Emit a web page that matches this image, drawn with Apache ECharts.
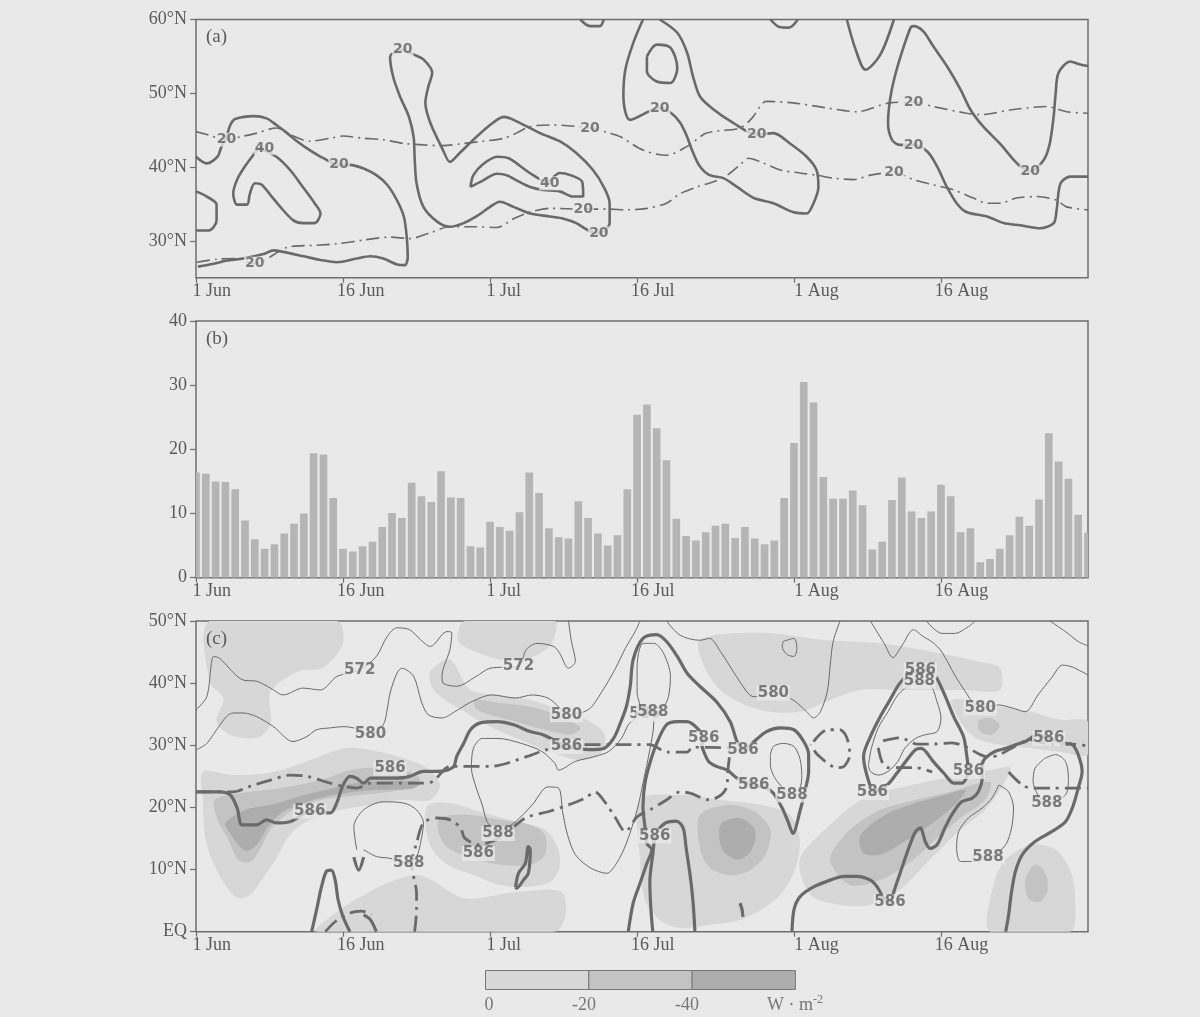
<!DOCTYPE html>
<html>
<head>
<meta charset="utf-8">
<script src="https://cdn.jsdelivr.net/npm/echarts@6/dist/echarts.min.js"></script>
<style>
  html, body { margin: 0; padding: 0; background: #e9e9e9; }
  #chart { width: 1200px; height: 1017px; }
</style>
</head>
<body>
<div id="chart"></div>
<script>
// x axis of every panel: days since 1 Jun (0 = 1 Jun, 91 = 31 Aug)
var tickDays = [0, 15, 30, 45, 61, 76];
var tickNames = ['1 Jun', '16 Jun', '1 Jul', '16 Jul', '1 Aug', '16 Aug'];
var labelDays = [1.6, 16.8, 31.4, 46.6, 63.3, 78.1];   // where the label texts sit
var latTicksA = [30, 40, 50, 60];

// (b) daily values, 1 Jun .. 31 Aug
var barValues = [16.4, 16.2, 15.0, 14.9, 13.8, 8.9, 6.0, 4.5, 5.2, 6.9, 8.4, 10.0, 19.4, 19.2, 12.4,
  4.5, 4.1, 4.9, 5.6, 7.9, 10.1, 9.3, 14.8, 12.7, 11.8, 16.6, 12.5, 12.4, 4.9, 4.7,
  8.7, 7.9, 7.3, 10.2, 16.4, 13.2, 7.7, 6.3, 6.1, 11.9, 9.3, 6.9, 5.0, 6.6, 13.8,
  25.4, 27.0, 23.3, 18.3, 9.2, 6.5, 5.8, 7.1, 8.1, 8.4, 6.2, 7.9, 6.1, 5.2, 5.8, 12.4,
  21.0, 30.5, 27.3, 15.7, 12.3, 12.3, 13.6, 11.3, 4.4, 5.6, 12.1, 15.6, 10.3, 9.3, 10.3,
  14.5, 12.7, 7.1, 7.7, 2.4, 2.9, 4.5, 6.6, 9.5, 8.1, 12.2, 22.5, 18.1, 15.4, 9.8, 7.0];

// (a) solid contours [day, lat]
var aSolid = [
  [[0,36.7],[1.1,36.0],[2.1,34.9],[2.1,32.8],[1.3,31.4],[0,31.4]],
  [[0,41.4],[1.1,40.5],[2.2,41.4],[2.6,42.8],[3.1,44.1],[3.5,45.7],[4.0,46.5],[5.9,46.9],[7.2,46.6],[8.2,45.7],[9.3,44.6],[10.3,43.5],[11.6,42.3],[13.0,41.2],[14.6,40.3],[15.7,40.3],[17.1,39.8],[18.4,38.9],[19.5,37.6],[20.5,35.5],[21.2,33.3],[21.5,30.5],[21.6,27.8],[21.3,26.7],[20.5,26.8],[19.1,27.6],[17.8,27.9],[16.4,27.6],[14.4,27.1],[12.7,27.4],[11.0,27.9],[8.9,28.5],[7.9,28.7],[6.9,28.2],[4.8,27.6],[3.1,27.3],[1.8,26.9],[0.2,26.5]],
  [[6.4,42.6],[8.2,41.4],[9.6,39.6],[10.9,37.3],[12.1,35.1],[12.7,33.7],[12.1,32.4],[10.9,32.4],[9.9,32.8],[8.6,34.6],[7.6,36.2],[6.7,37.6],[6.0,37.8],[5.5,36.4],[5.2,34.9],[4.2,34.9],[3.8,36.4],[4.2,38.3],[5.0,40.1],[6.0,41.9],[6.4,42.6]],
  [[21.1,55.9],[19.8,55.0],[20.1,52.3],[20.8,49.6],[21.7,46.9],[22.2,44.1],[22.3,41.4],[22.5,37.8],[23.2,34.6],[24.6,32.6],[25.9,31.9],[27.3,32.4],[28.6,33.3],[30.0,34.6],[31.0,35.3],[32.4,34.6],[34.1,33.7],[36.1,33.3],[37.5,33.0],[38.8,32.4],[39.9,31.5],[41.1,31.0],[42.2,32.4],[42.2,35.1],[41.6,37.3],[40.5,39.6],[38.8,41.9],[37.1,43.5],[35.1,44.6],[32.4,46.4],[31.4,46.8],[30.0,45.7],[28.3,43.7],[26.9,41.9],[25.9,40.7],[25.2,42.3],[23.9,46.0],[23.4,48.7],[23.7,50.9],[24.1,52.8],[23.2,54.6],[22.3,55.2],[21.1,55.9]],
  [[28.0,37.3],[28.3,38.9],[29.3,40.4],[30.7,41.4],[31.9,41.2],[33.1,40.1],[34.4,38.9],[35.8,38.0],[37.1,39.2],[38.2,38.9],[39.4,38.0],[39.5,36.0],[38.5,36.0],[37.1,36.7],[35.4,36.9],[34.1,37.3],[32.7,38.2],[31.7,38.9],[30.7,39.1],[29.3,38.2],[28.0,37.3]],
  [[45.6,60],[44.6,56.8],[43.8,53.2],[43.6,49.6],[44.3,46.4],[47.3,48.0],[48.5,47.3],[49.4,46.0],[50.1,44.1],[50.6,42.3],[51.4,40.1],[52.4,38.9],[53.8,38.5],[55.2,37.3],[56.9,35.8],[58.9,35.1],[60.9,33.9],[62.3,33.7],[63.0,35.1],[63.5,37.3],[63.3,39.6],[62.3,41.4],[60.6,43.2],[58.9,44.6],[57.2,44.4],[54.8,46.0],[52.8,47.8],[51.4,49.6],[50.7,52.3],[50.1,55.5],[49.1,58.2],[47.3,60]],
  [[46.0,55.0],[47.0,56.6],[48.4,56.2],[49.1,53.4],[48.4,51.4],[47.0,51.6],[46.0,53.0],[46.0,55.0]],
  [[66.4,60],[67.3,55.9],[68.3,53.2],[69.8,55.2],[71.2,60]],
  [[58.6,60],[59.5,59.0],[60.5,58.9],[61.4,60]],
  [[39.2,60],[40.2,59.1],[41.2,59.1],[41.6,60]],
  [[91,53.7],[90.2,53.9],[89.2,54.3],[88.0,52.8],[87.7,50.0],[87.5,46.9],[87.1,43.2],[86.5,41.0],[85.1,39.4],[84.1,40.1],[83.4,41.0],[82.0,43.2],[80.3,45.5],[79.0,47.8],[78.0,50.5],[76.6,53.7],[75.2,56.4],[74.2,58.4],[73.2,59.1],[72.9,58.9],[72.0,55.5],[71.2,51.8],[70.8,49.1],[70.6,46.0],[71.0,43.7],[71.8,43.0],[73.2,43.0],[74.6,42.1],[75.6,40.1],[76.6,37.3],[77.6,35.1],[78.6,33.9],[80.7,33.3],[82.4,32.4],[84.1,32.1],[86.1,31.7],[87.5,32.4],[87.8,34.2],[88.2,37.8],[89.2,38.7],[91,38.7]]
];
// (a) dash-dot contours
var aDash = [
  [[0,44.8],[1.1,44.4],[3.1,43.7],[4.5,44.1],[6.2,44.6],[8.2,45.3],[9.6,44.4],[11.6,43.5],[13.7,43.9],[15.0,44.2],[17.1,43.9],[19.1,43.7],[21.2,43.2],[23.2,43.0],[25.2,42.9],[27.3,43.2],[29.3,43.5],[31.4,43.9],[32.7,44.6],[34.1,45.5],[36.1,45.7],[40.2,45.3],[42.2,44.6],[43.3,44.1],[45.6,42.3],[48.0,41.6],[50.1,42.8],[52.1,44.6],[55.5,45.3],[56.7,46.6],[58.2,48.9],[60.9,48.7],[64.4,48.0],[67.4,47.5],[70.8,48.7],[73.2,48.8],[75.2,48.2],[78.6,47.3],[80.0,47.1],[83.4,47.8],[86.8,48.2],[88.8,47.5],[91,47.3]],
  [[0.1,27.1],[2.1,27.5],[4.2,27.6],[6.0,26.9],[9.3,29.1],[12.3,29.4],[14.4,29.6],[17.1,30.1],[19.8,30.5],[21.8,30.3],[23.9,31.1],[25.9,31.9],[28.6,31.9],[30.7,31.8],[32.4,33.0],[34.1,33.9],[36.1,34.4],[39.5,34.3],[42.2,34.3],[43.9,34.2],[46.0,34.4],[48.0,35.1],[49.4,36.4],[51.1,37.3],[52.8,38.0],[54.2,38.9],[55.5,40.3],[56.4,41.2],[57.6,40.7],[59.6,39.6],[61.6,39.2],[63.3,38.9],[65.0,38.5],[67.1,38.3],[68.8,38.9],[71.2,39.3],[73.2,38.3],[75.2,37.6],[77.3,36.9],[79.3,35.8],[80.7,35.1],[82.0,35.1],[83.7,35.8],[85.8,36.0],[87.8,35.5],[88.8,34.6],[91,34.2]]
];
var aLabels = [
  [14.6,40.3,'20'],[7.0,42.6,'40'],[21.1,55.9,'20'],[41.1,31.0,'20'],[36.1,37.8,'40'],
  [47.3,48.0,'20'],[57.2,44.4,'20'],[73.2,43.0,'20'],[85.1,39.4,'20'],
  [3.1,43.7,'20'],[40.2,45.3,'20'],[73.2,48.8,'20'],
  [6.0,26.9,'20'],[39.5,34.3,'20'],[71.2,39.3,'20']
];

// (c) thin contours (572, 580, 588)
var cThin = [
  [[0,35.7],[1.1,37.8],[1.8,44.3],[2.4,44.0],[4.8,40.5],[6.2,40.3],[7.6,39.2],[8.9,38.1],[10.9,39.2],[12.7,38.9],[14.4,41.1],[16.7,42.1],[18.4,44.3],[19.5,47.5],[20.5,48.9],[21.8,48.6],[22.9,47.0],[23.9,45.9],[25.6,48.3],[26.1,48.1],[25.9,45.4],[25.1,41.1],[25.2,40.0],[26.6,39.5],[28.6,41.1],[30.0,42.4],[32.9,42.7],[33.7,45.4],[34.8,46.4],[36.5,45.9],[37.1,44.8],[38.0,42.4],[38.7,43.5],[38.3,46.7],[38.0,50]],
  [[0.1,29.3],[1.1,30.3],[2.1,32.5],[3.1,34.6],[3.8,35.2],[4.8,35.2],[6.2,34.6],[7.9,33.0],[9.9,30.6],[11.3,31.4],[12.3,32.5],[13.7,32.8],[15.0,33.0],[16.1,32.8],[17.8,31.8],[19.1,33.3],[19.5,35.7],[19.8,38.4],[20.5,41.6],[21.0,42.4],[22.2,41.1],[23.0,37.0],[23.7,34.9],[25.1,34.4],[26.4,35.4],[28.1,37.0],[30.2,38.1],[32.6,37.6],[34.3,38.1],[35.9,37.6],[37.0,36.2],[37.8,34.9],[40.0,35.7],[41.4,38.6],[42.8,42.4],[43.8,45.6],[44.8,48.3],[45.3,50]],
  [[48.0,50],[49.4,47.7],[51.4,46.9],[52.4,47.2],[53.5,45.1],[54.8,41.9],[56.2,38.6],[56.9,37.8],[58.9,38.4],[60.9,37.3],[62.3,35.4],[63.0,34.4],[63.7,35.4],[64.4,38.6],[64.7,42.9],[65.0,46.7],[65.7,50]],
  [[59.9,46.7],[61.0,47.2],[61.3,45.6],[61.0,44.3],[60.3,44.6],[59.8,45.9],[59.9,46.7]],
  [[68.8,50],[70.2,46.4],[71.1,44.1],[72.0,46.0],[73.2,48.6],[74.1,47.6],[75.2,46.5],[76.1,45.0],[77.4,41.3],[78.5,38.6],[79.2,37.0],[80.0,36.0],[81.8,36.5],[83.3,36.0],[84.6,35.4],[85.9,38.1],[87.3,40.9],[88.4,42.9],[89.4,42.6],[91,41.3]],
  [[74.5,50],[76.1,48.0],[77.4,48.0],[78.8,49.1],[79.5,50]],
  [[87.1,50],[88.7,48.3],[90.0,46.7],[91,46.0]],
  [[30.8,15.8],[29.7,17.7],[29.2,20.4],[28.6,23.1],[28.1,26.3],[28.3,29.5],[29.2,31.1],[30.8,31.1],[33.2,30.3],[35.3,29.0],[36.6,27.1],[37.0,26.0],[38.7,27.4],[40.7,28.2],[42.1,29.0],[43.4,31.1],[44.1,33.3],[44.8,34.4],[45.3,36.2],[45.0,38.4],[45.0,42.7],[45.6,46.4],[46.7,46.4],[47.7,44.8],[48.4,41.1],[48.2,37.8],[47.7,36.2],[46.7,34.9],[46.7,33.6],[46.3,29.3],[45.6,23.9],[45.0,19.6],[43.9,14.2],[42.9,11.0],[41.9,9.4],[40.2,10.3],[38.7,12.4],[37.9,15.6],[37.4,19.3],[37.0,23.1],[35.9,23.3],[34.3,20.4],[32.6,17.7],[30.8,15.8]],
  [[16.4,13.2],[16.1,16.9],[17.1,19.6],[19.1,20.9],[21.2,20.7],[22.5,19.6],[23.2,17.5],[22.9,14.2],[22.5,12.1],[21.7,11.0],[19.8,11.8],[18.4,12.1],[17.1,13.2]],
  [[58.6,28.4],[58.9,29.8],[59.9,30.3],[61.0,29.8],[61.6,27.9],[61.8,25.2],[61.6,23.1],[60.8,22.0],[59.6,23.6],[58.9,25.2],[58.6,26.8],[58.6,28.4]],
  [[68.6,26.8],[68.9,29.5],[69.6,32.8],[70.6,35.4],[71.6,38.1],[72.6,39.5],[73.5,40.3],[74.9,39.7],[75.6,37.0],[76.0,34.4],[75.6,32.2],[74.4,31.7],[73.4,31.1],[72.3,29.5],[71.6,27.4],[70.6,25.8],[69.6,25.2],[68.8,25.8],[68.6,26.8]],
  [[86.6,27.9],[87.7,28.5],[88.7,27.4],[89.0,24.7],[88.7,22.0],[86.8,20.7],[85.9,22.0],[85.4,24.2],[85.6,26.3],[86.6,27.9]],
  [[81.9,23.6],[82.9,22.5],[83.4,19.9],[83.2,16.7],[82.6,14.0],[81.2,12.1],[79.2,11.3],[78.0,11.3],[77.6,13.4],[77.8,16.1],[78.8,18.3],[80.2,19.9],[81.2,21.5],[81.9,23.6]]
];
// (c) thick 586 contours
var cThick = [
  [[0.1,22.5],[2.4,22.5],[3.5,22.0],[4.2,19.9],[4.7,17.2],[6.2,17.2],[7.2,18.0],[8.2,17.5],[9.6,17.7],[10.3,18.3],[11.6,19.4],[13.7,19.1],[14.4,20.9],[15.0,23.6],[15.7,25.0],[16.4,24.7],[17.1,23.9],[17.8,24.7],[18.8,24.7],[20.5,24.7],[21.8,25.0],[23.2,25.8],[24.6,25.8],[25.6,26.0],[26.3,26.6],[26.6,28.2],[27.3,30.3],[28.0,32.5],[29.0,33.6],[30.7,33.8],[32.4,33.3],[34.1,32.2],[35.4,31.7],[36.8,30.6],[37.8,29.8],[40.2,29.3],[41.6,29.5],[42.6,31.1],[43.3,33.6],[43.9,36.2],[44.3,39.5],[44.6,43.8],[45.6,47.2],[47.0,47.8],[48.0,46.7],[49.1,44.3],[50.1,41.6],[51.4,39.5],[53.1,37.0],[54.5,33.8],[55.2,30.6],[55.8,29.3],[56.7,30.3],[58.2,32.2],[59.6,32.8],[61.0,32.5],[62.0,30.6],[62.5,28.5],[62.5,25.8],[62.1,22.5],[61.6,19.3],[60.9,15.8],[60.4,17.7],[59.8,19.9],[58.9,22.3],[58.2,23.1],[56.9,23.6],[55.2,24.7],[54.2,26.0],[53.1,26.6],[52.3,27.4],[51.8,29.0],[51.6,30.1],[51.8,31.1],[51.1,32.8],[50.1,33.8],[49.1,33.8],[48.0,33.3],[47.0,30.3],[46.3,27.1],[45.8,23.9],[45.6,20.1],[45.8,16.9],[46.0,14.2],[46.5,13.2],[46.0,11.0],[45.3,7.8],[44.6,4.6],[44.1,0]],
  [[46.6,0],[46.4,3.8],[46.3,8.1],[46.6,12.4],[46.9,15.6],[47.9,17.5],[49.0,17.8],[49.7,16.7],[50.0,13.5],[50.4,9.2],[50.7,4.9],[50.9,0]],
  [[60.8,0],[61.0,3.5],[61.6,5.6],[63.0,7.2],[64.7,8.3],[66.1,8.9],[67.4,8.9],[68.8,8.3],[69.5,7.2],[70.1,5.6],[70.8,4.8],[71.3,7.0],[72.0,10.2],[72.7,13.4],[73.4,16.1],[73.9,16.7],[74.4,14.5],[74.9,13.4],[75.6,14.0],[76.4,16.7],[77.1,18.8],[78.1,20.9],[79.2,21.5],[79.8,22.5],[80.2,24.7],[80.2,26.8],[80.5,27.9],[81.5,29.0],[82.6,29.5],[83.6,30.1],[84.6,30.6],[85.9,31.7],[87.0,31.1],[88.7,30.3],[89.4,30.1],[90.0,28.5],[90.4,25.8],[90.0,23.1],[89.4,19.9],[88.7,17.7],[87.3,16.1],[85.6,14.5],[84.3,12.4],[83.6,9.7],[83.2,6.4],[82.9,2.7],[82.6,0]],
  [[69.0,22.4],[68.1,28.2],[68.8,31.4],[69.8,34.6],[70.8,37.3],[71.8,40.0],[72.9,41.6],[73.9,42.1],[75.2,41.6],[76.3,38.4],[77.3,34.6],[78.3,31.4],[78.6,28.7],[78.8,25.8],[78.1,23.9],[77.3,23.9],[76.3,25.5],[75.2,27.4],[74.0,29.5],[73.4,29.3],[72.5,27.6],[71.5,25.5],[70.5,23.6],[69.0,22.4]],
  [[11.8,0],[12.3,3.5],[12.8,7.2],[13.3,9.7],[13.8,9.9],[14.2,8.3],[14.5,5.1],[15.0,2.4],[15.7,0]],
  [[17.1,2.7],[17.8,1.9],[18.4,0]],
  [[16.1,12.0],[16.6,9.9],[17.1,12.0]],
  [[32.6,7.2],[32.9,9.4],[33.6,11.0],[33.9,13.7],[34.1,13.2],[33.9,9.4],[33.4,8.3],[32.7,7.0],[32.6,7.2]],
  [[55.5,4.6],[55.7,3.6],[55.8,2.4]]
];
// (c) dash-dot 586 contours
var cDash = [
  [[0,22.5],[3.8,22.5],[5.5,23.4],[7.6,24.4],[9.6,25.2],[11.3,25.0],[13.7,23.9],[15.0,23.4],[16.4,23.1],[17.8,23.9],[23.2,23.9],[24.2,24.2],[25.9,26.6],[30.0,26.6],[33.8,28.2],[35.8,29.3],[39.5,30.1],[44.3,30.1],[46.3,30.1],[48.1,28.9],[50.1,28.9],[50.7,29.7],[54.5,29.6]],
  [[22.3,0],[22.5,3.5],[22.5,6.2],[22.2,8.9],[22.0,11.0],[22.5,14.2],[23.2,17.5],[24.6,18.3],[25.9,18.0],[27.0,16.7],[27.4,15.1],[28.8,14.0],[31.0,15.1],[33.6,18.3],[35.9,19.3],[38.0,20.4],[39.7,21.5],[40.7,22.5],[41.7,20.9],[42.8,18.3],[43.8,16.1],[45.0,18.5],[46.3,19.6],[48.0,21.2],[49.4,22.5],[50.4,22.3],[52.4,21.2],[54.0,22.8],[54.3,26.5],[54.5,29.3]],
  [[63.0,30.6],[64.4,32.5],[65.7,32.5],[66.4,31.2],[66.7,28.5],[66.0,26.5],[65.4,26.4],[63.4,28.5],[62.7,30.1]],
  [[70.1,30.7],[71.8,31.2],[73.6,30.2],[75.2,30.2],[77.1,30.4],[78.6,29.7],[80.0,28.5],[81.0,28.1],[82.0,28.5],[83.3,29.6],[85.1,30.9],[87.1,30.2],[89.2,30.2],[91,29.9]],
  [[69.6,29.6],[70.0,27.3],[70.6,26.4],[71.8,26.4],[73.4,26.4],[75.1,25.7]],
  [[82.9,25.7],[84.3,23.6],[85.3,23.1],[87.3,23.1],[89.4,23.1],[91,23.1]],
  [[13.2,0],[14.2,1.6],[15.7,3.0],[16.9,3.3],[17.9,2.7]]
];
var cLabels = [
  [16.7,42.1,'572'],[32.9,42.7,'572'],
  [17.8,31.8,'580'],[37.8,34.9,'580'],[58.9,38.4,'580'],[80.0,36.0,'580'],
  [11.6,19.4,'586'],[19.8,26.3,'586'],[37.8,29.8,'586'],[28.8,12.6,'586'],[55.8,29.3,'586'],
  [56.9,23.6,'586'],[51.8,31.1,'586'],[46.8,15.4,'586'],[69.0,22.4,'586'],[73.9,42.1,'586'],
  [78.8,25.8,'586'],[87.0,31.1,'586'],[70.8,4.8,'586'],[45.8,35.0,'586'],
  [30.8,15.8,'588'],[21.7,11.0,'588'],[46.6,35.3,'588'],[73.8,40.3,'588'],[60.8,22.0,'588'],
  [80.8,12.0,'588'],[86.8,20.7,'588']
];

// (c) shaded areas: 0..-20, -20..-40, below -40 (W m-2)
var shadeLight = [
  [[1.4,50],[14.4,50],[15.0,46.4],[13.0,42.5],[10.3,41.8],[7.6,38.6],[7.6,33.3],[6.2,31.2],[3.5,31.7],[2.1,33.8],[2.8,37.6],[1.4,40.2]],
  [[0.7,25.7],[3.8,25.2],[7.9,25.7],[12.3,28.0],[15.4,29.6],[18.8,28.9],[21.8,27.6],[23.9,26.0],[24.9,23.6],[23.9,21.2],[20.8,21.2],[17.8,20.4],[14.7,19.6],[11.6,18.0],[9.6,15.6],[8.1,11.6],[6.7,8.3],[5.5,5.9],[4.3,5.4],[3.0,7.5],[1.6,11.6],[0.9,15.6],[0.7,21.2]],
  [[23.7,20.4],[25.9,20.7],[29.0,19.3],[32.6,17.7],[35.6,16.4],[36.9,13.5],[37.1,10.3],[36.1,8.0],[33.6,7.2],[31.0,7.5],[28.5,9.0],[25.9,10.6],[24.1,13.2],[23.4,17.2]],
  [[12.3,0],[14.4,3.2],[17.1,5.9],[19.8,8.0],[22.9,9.1],[27.4,5.4],[32.6,6.4],[37.3,6.4],[37.7,2.7],[36.6,0]],
  [[23.9,41.8],[25.9,43.8],[28.0,38.9],[31.0,38.1],[34.1,37.3],[37.1,35.7],[40.2,33.8],[41.7,31.7],[41.2,28.5],[39.2,27.6],[36.1,28.9],[33.1,30.9],[30.0,33.0],[27.4,35.4],[25.4,37.3],[24.1,39.2]],
  [[27.4,50],[36.6,50],[36.3,46.4],[35.1,44.8],[33.6,43.8],[31.0,43.8],[28.0,45.4],[26.7,47.0]],
  [[51.4,47.0],[57.6,48.1],[63.7,47.0],[69.8,46.4],[75.9,44.8],[80.0,43.4],[82.0,42.5],[82.0,38.9],[78.0,38.9],[71.8,38.9],[67.8,38.9],[64.7,37.3],[61.6,35.4],[58.6,35.4],[56.0,36.5],[53.5,38.9],[51.9,42.5]],
  [[77.1,37.3],[81.0,36.5],[85.1,35.4],[88.2,34.1],[91,33.8],[91,28.5],[88.2,28.9],[85.1,29.6],[82.0,30.1],[79.5,31.2],[78.0,33.8]],
  [[45.3,21.2],[49.4,22.0],[53.5,21.2],[57.6,20.4],[60.6,18.8],[61.6,14.8],[61.1,9.9],[59.6,5.9],[57.6,3.5],[55.5,1.9],[52.4,1.1],[49.4,0.6],[47.3,1.9],[45.8,5.1],[45.3,11.6]],
  [[61.6,11.6],[64.7,17.2],[67.8,21.2],[70.8,22.8],[73.9,23.9],[78.0,25.2],[81.0,26.0],[83.1,26.4],[82.0,22.8],[80.5,19.6],[78.0,16.4],[74.9,11.6],[71.8,6.7],[68.8,4.3],[65.7,4.3],[62.7,5.9]],
  [[81.0,0],[81.5,8.3],[82.6,11.6],[85.1,14.0],[87.7,13.2],[89.2,9.9],[89.7,5.1],[89.2,0]]
];
var shadeMid = [
  [[1.9,21.2],[4.5,22.3],[8.6,23.1],[12.7,24.4],[15.7,26.0],[18.8,26.4],[21.8,25.7],[22.9,24.4],[20.8,22.8],[16.7,22.0],[12.7,21.2],[9.6,19.3],[7.6,16.4],[6.5,13.2],[5.5,11.2],[4.3,11.6],[3.3,14.8],[2.2,18.0]],
  [[24.9,18.3],[28.0,18.8],[31.0,18.0],[34.1,17.2],[35.6,15.6],[35.6,12.4],[34.1,10.8],[31.0,10.8],[28.0,11.9],[25.7,13.5],[24.7,16.1]],
  [[28.5,37.3],[31.0,36.8],[34.1,36.2],[37.1,34.7],[39.2,32.8],[38.2,31.7],[35.6,32.5],[32.6,33.8],[30.0,34.9],[28.5,36.0]],
  [[51.4,18.8],[54.5,20.4],[57.0,19.3],[58.6,16.4],[58.1,12.4],[56.5,9.9],[54.5,9.1],[52.4,10.3],[51.4,13.5]],
  [[64.7,11.6],[66.7,16.4],[69.8,19.6],[73.4,21.2],[76.9,22.5],[81.0,24.1],[80.5,21.2],[78.0,18.3],[75.4,14.8],[72.9,11.2],[69.8,8.3],[66.7,7.5]],
  [[84.6,8.3],[85.6,10.8],[86.6,9.6],[86.9,6.7],[86.1,4.8],[84.9,5.4]],
  [[79.8,33.8],[81.0,34.4],[82.0,33.3],[81.2,31.7],[80.0,32.2]]
];
var shadeDark = [
  [[3.0,17.5],[5.0,19.6],[8.1,20.6],[10.6,21.8],[13.7,23.0],[16.7,24.0],[20.3,24.3],[23.0,24.0],[22.0,23.0],[18.0,22.8],[14.0,22.0],[10.8,20.6],[8.6,19.0],[7.2,16.5],[6.2,14.0],[5.2,13.0],[4.2,14.2],[3.4,16.0]],
  [[53.5,17.2],[55.5,18.3],[57.0,16.4],[56.7,13.2],[55.3,11.6],[53.7,13.2]],
  [[67.8,15.6],[70.3,18.8],[73.4,20.7],[76.4,22.0],[78.5,22.8],[77.4,20.4],[74.9,17.2],[72.3,14.5],[69.8,12.4],[68.0,12.8]]
];
var colorbarLabels = ['0', '-20', '-40'];

var ink = '#6a6a6a';
var frame = '#6e6e6e';
var textInk = '#5a5a5a';
var serif = '"Liberation Serif", "DejaVu Serif", serif';
var shadeColors = ['#d7d7d7', '#c3c3c3', '#adadad'];
var bg = '#e9e9e9';

function dayName(v) {
  for (var i = 0; i < labelDays.length; i++) {
    if (Math.abs(labelDays[i] - v) < 0.01) return tickNames[i];
  }
  return '';
}

function makeXAxis(i) {
  return {
    type: 'value', gridIndex: i, min: 0, max: 91,
    axisLine: { show: false }, splitLine: { show: false },
    axisTick: { show: true, length: 5, customValues: tickDays, lineStyle: { color: frame, width: 1.2 } },
    axisLabel: { customValues: labelDays, formatter: dayName, color: textInk, fontFamily: serif, fontSize: 18, margin: 5 }
  };
}

function makeGrid(top, height) {
  return { left: 196, width: 892, top: top, height: height, show: true,
    borderColor: frame, borderWidth: 1.5, backgroundColor: 'transparent' };
}

var yTick = { show: true, length: 6, lineStyle: { color: frame, width: 1.2 } };
var yLabel = { color: textInk, fontFamily: serif, fontSize: 18, margin: 9 };

function lineSet(list, axis, width, dash, z) {
  return list.map(function (pts) {
    return { type: 'line', xAxisIndex: axis, yAxisIndex: axis, data: pts, symbol: 'none',
      smooth: 0.3, silent: true, z: z, clip: true,
      lineStyle: { color: ink, width: width, type: dash } };
  });
}

function labelSet(list, axis, size) {
  return { type: 'scatter', xAxisIndex: axis, yAxisIndex: axis, data: list, symbolSize: 1,
    silent: true, z: 8, itemStyle: { color: 'rgba(0,0,0,0)' },
    label: { show: true, position: 'inside', formatter: function (p) { return p.data[2]; },
      color: '#5f5f5f', fontFamily: '"DejaVu Sans", sans-serif', fontWeight: 'bold', fontSize: size,
      backgroundColor: bg, padding: [0, 1] } };
}

function shadeSet(polys, color, z) {
  return { type: 'custom', xAxisIndex: 2, yAxisIndex: 2, silent: true, z: z, clip: true,
    data: polys.map(function (p, i) { return [p[0][0], p[0][1], i]; }),
    renderItem: function (params, api) {
      var pts = polys[params.dataIndex].map(function (pt) { return api.coord(pt); });
      return { type: 'polygon', shape: { points: pts, smooth: 0.3 }, style: { fill: color } };
    } };
}

var dashDotA = [13, 5, 2, 5];
var dashDotC = [16, 6, 3, 6];

var series = [];
// daily bars, drawn as custom rects so that the half bars at both ends are clipped by the frame
series.push({ type: 'custom', xAxisIndex: 1, yAxisIndex: 1, silent: true, clip: true, z: 2,
  data: barValues.map(function (v, i) { return [i, v]; }),
  renderItem: function (params, api) {
    var top = api.coord([api.value(0), api.value(1)]);
    var base = api.coord([api.value(0), 0]);
    var w = api.size([1, 0])[0] * 0.78;
    return { type: 'rect', shape: { x: top[0] - w / 2, y: top[1], width: w, height: base[1] - top[1] },
      style: { fill: '#b5b5b5' } };
  } });
series.push(shadeSet(shadeLight, shadeColors[0], 1));
series.push(shadeSet(shadeMid, shadeColors[1], 1.5));
series.push(shadeSet(shadeDark, shadeColors[2], 1.8));
series = series.concat(lineSet(aSolid, 0, 2.6, 'solid', 4));
series = series.concat(lineSet(aDash, 0, 1.6, dashDotA, 4));
series = series.concat(lineSet(cThin, 2, 1, 'solid', 4));
series = series.concat(lineSet(cThick, 2, 3.2, 'solid', 5));
series = series.concat(lineSet(cDash, 2, 2.8, dashDotC, 5));
series.push(labelSet(aLabels, 0, 14));
series.push(labelSet(cLabels, 2, 15));

// colour bar under panel (c)
var cbLeft = 485, cbTop = 970, cbW = 103.3, cbH = 19;
var cbGraphics = [];
shadeColors.forEach(function (c, i) {
  cbGraphics.push({ type: 'rect', left: cbLeft + i * cbW, top: cbTop,
    shape: { width: cbW, height: cbH }, style: { fill: c, stroke: '#777', lineWidth: 1 } });
});
var cbLabelX = [489, 584, 687];
colorbarLabels.forEach(function (t, i) {
  cbGraphics.push({ type: 'text', x: cbLabelX[i], y: 1005,
    style: { text: t, fill: '#777', font: '18px ' + serif, align: 'center', verticalAlign: 'middle' } });
});
cbGraphics.push({ type: 'text', x: 767, y: 1005,
  style: { text: '{b|W · m}{s|-2}', fill: '#777', verticalAlign: 'middle',
    rich: { b: { fontFamily: serif, fontSize: 18, fill: '#777' },
            s: { fontFamily: serif, fontSize: 12, fill: '#777', padding: [0, 0, 10, 0] } } } });

var panelTags = [['(a)', 28], ['(b)', 330], ['(c)', 630]];
panelTags.forEach(function (p) {
  cbGraphics.push({ type: 'text', x: 206, y: p[1], z: 10,
    style: { text: p[0], fill: textInk, font: '19px ' + serif } });
});

var chart = echarts.init(document.getElementById('chart'));
chart.setOption({
  backgroundColor: bg,
  animation: false,
  grid: [makeGrid(19.5, 258.2), makeGrid(321, 256.7), makeGrid(621, 310.7)],
  xAxis: [makeXAxis(0), makeXAxis(1), makeXAxis(2)],
  yAxis: [
    { type: 'value', gridIndex: 0, min: 25, max: 60, axisLine: { show: false }, splitLine: { show: false },
      axisTick: Object.assign({ customValues: latTicksA }, yTick),
      axisLabel: Object.assign({ customValues: latTicksA, formatter: function (v) { return v + '°N'; } }, yLabel) },
    { type: 'value', gridIndex: 1, min: 0, max: 40, interval: 10, axisLine: { show: false }, splitLine: { show: false },
      axisTick: yTick, axisLabel: yLabel },
    { type: 'value', gridIndex: 2, min: 0, max: 50, interval: 10, axisLine: { show: false }, splitLine: { show: false },
      axisTick: yTick,
      axisLabel: Object.assign({ formatter: function (v) { return v === 0 ? 'EQ' : v + '°N'; } }, yLabel) }
  ],
  series: series,
  graphic: cbGraphics
});
</script>
</body>
</html>
